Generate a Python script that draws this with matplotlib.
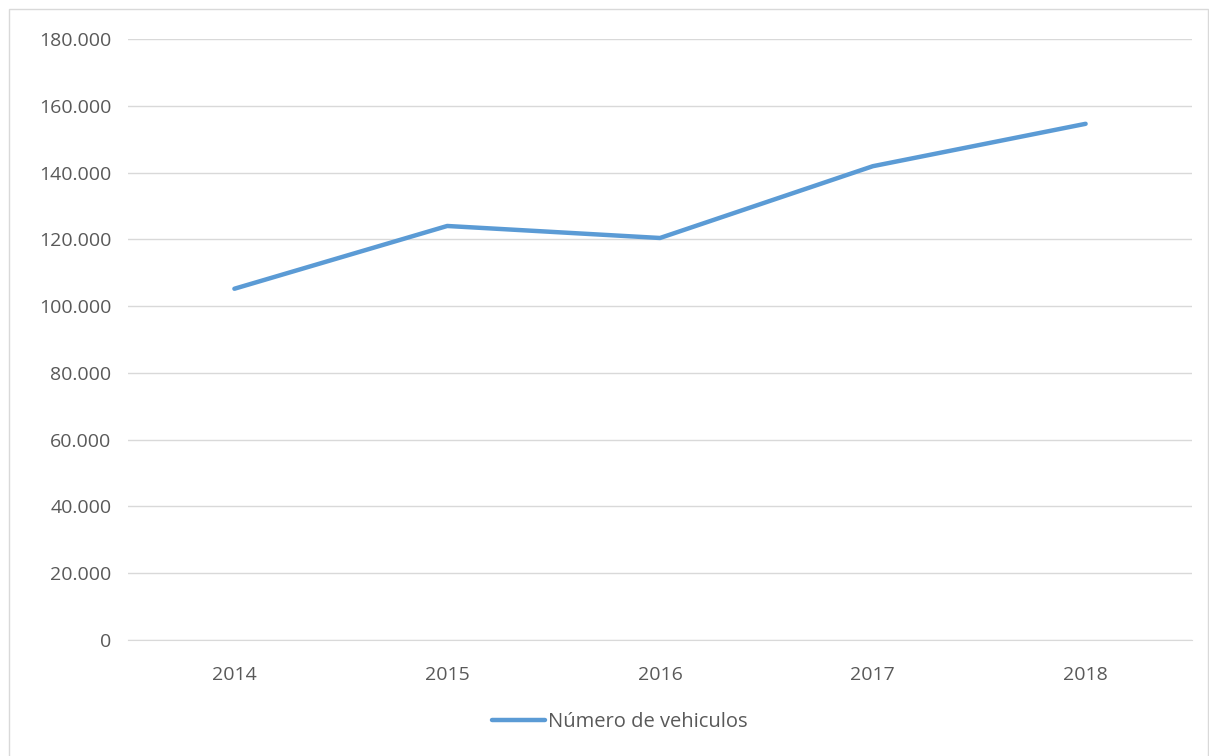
import matplotlib.pyplot as plt
from matplotlib.patches import Rectangle
from matplotlib.ticker import FuncFormatter

years = ["2014", "2015", "2016", "2017", "2018"]
vehiculos = [105200, 124000, 120400, 141900, 154600]

plt.rcParams["font.family"] = ["Open Sans", "DejaVu Sans"]

W, H = 1209, 756
fig = plt.figure(figsize=(W / 100, H / 100), dpi=100)
ax = fig.add_axes([128 / W, 1 - 640 / H, (1192 - 128) / W, (640 - 39) / H])

# outer chart border
fig.patches.append(Rectangle((9 / W, -0.01), (1208 - 9) / W, 1 - 9 / H + 0.01,
                             transform=fig.transFigure, fill=False,
                             edgecolor="#d9d9d9", linewidth=1))

x = range(len(years))
ax.plot(x, vehiculos, color="#5b9bd5", linewidth=3.2, solid_capstyle="round",
        label="Número de vehiculos")

ax.set_xlim(-0.5, len(years) - 0.5)
ax.set_ylim(0, 180000)
ax.set_yticks(range(0, 180001, 20000))
ax.yaxis.set_major_formatter(FuncFormatter(lambda v, _: f"{int(v):,}".replace(",", ".")))
ax.set_xticks(list(x))
ax.set_xticklabels(years)

ax.grid(axis="y", color="#d9d9d9", linewidth=1)
ax.set_axisbelow(True)
for side in ["top", "right", "left"]:
    ax.spines[side].set_visible(False)
ax.spines["bottom"].set_color("#d9d9d9")
ax.tick_params(length=0, labelsize=14, colors="#595959")
ax.tick_params(axis="x", pad=19)
ax.tick_params(axis="y", pad=12)

leg = fig.legend(loc="center", bbox_to_anchor=(620 / W, 1 - 722 / H), frameon=False,
                 fontsize=14.5, handlelength=2.6, handletextpad=0.15, labelcolor="#595959")

fig.savefig("out.png", dpi=100)
